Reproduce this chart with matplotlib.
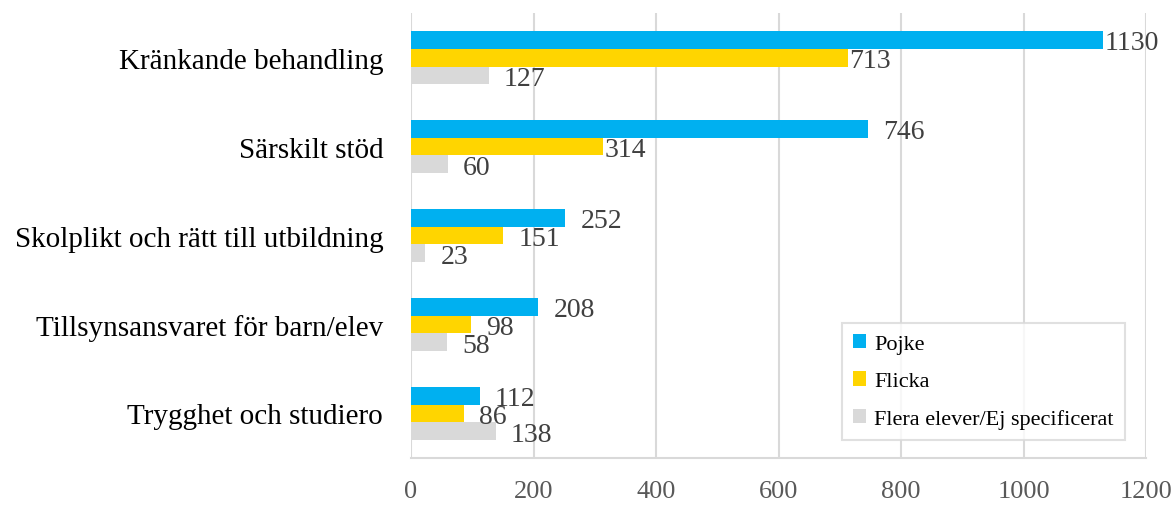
import matplotlib.pyplot as plt
import numpy as np

categories = ['Kränkande behandling', 'Särskilt stöd', 'Skolplikt och rätt till utbildning',
              'Tillsynsansvaret för barn/elev', 'Trygghet och studiero']
pojke = [1130, 746, 252, 208, 112]
flicka = [713, 314, 151, 98, 86]
flera = [127, 60, 23, 58, 138]
series_names = ['Pojke', 'Flicka', 'Flera elever/Ej specificerat']
colors = ['#00B0F0', '#FFD500', '#D9D9D9']

plt.rcParams['font.family'] = ['Liberation Serif', 'DejaVu Serif']

fig = plt.figure(figsize=(11.76, 5.06), dpi=100)
ax = fig.add_axes([0.3495, 0.093, 0.625, 0.879])

# labels that sit tight against their bar in the original (series, index)
tight = {(0, 0), (1, 0), (1, 1)}

y = np.arange(len(categories))
h = 0.2
for k, (vals, name, col) in enumerate(zip([pojke, flicka, flera], series_names, colors)):
    pos = y + (k - 1) * h
    bars = ax.barh(pos, vals, height=h, color=col, label=name, zorder=3)
    for i, (b, v) in enumerate(zip(bars, vals)):
        off = 1 if (k, i) in tight else 11
        ax.annotate(str(v), (b.get_width(), b.get_y() + b.get_height() / 2),
                    xytext=(off, -2), textcoords='offset points',
                    va='center', ha='left', fontsize=20, color='#404040', zorder=4)

ax.set_ylim(len(categories) - 0.5, -0.5)
ax.set_xlim(0, 1200)
ax.set_xticks(np.arange(0, 1201, 200))
ax.set_yticks(y)
ax.set_yticklabels(categories, fontsize=21, color='black')
ax.tick_params(axis='x', labelsize=19, colors='#595959', length=0, pad=16)
ax.tick_params(axis='y', length=0, pad=20)
ax.grid(axis='x', color='#D9D9D9', linewidth=1.5, zorder=0)
for s in ['top', 'right', 'left']:
    ax.spines[s].set_visible(False)
ax.spines['bottom'].set_color('#D9D9D9')
ax.spines['bottom'].set_linewidth(1.5)

leg = ax.legend(loc='lower right', bbox_to_anchor=(0.971, 0.04), fontsize=16,
                frameon=True, fancybox=False, edgecolor='#D9D9D9', handlelength=0.6,
                handleheight=0.6, labelspacing=0.8, borderpad=0.5, handletextpad=0.35,
                borderaxespad=0)
leg.get_frame().set_linewidth(1.5)

plt.savefig('out.png', dpi=100)
